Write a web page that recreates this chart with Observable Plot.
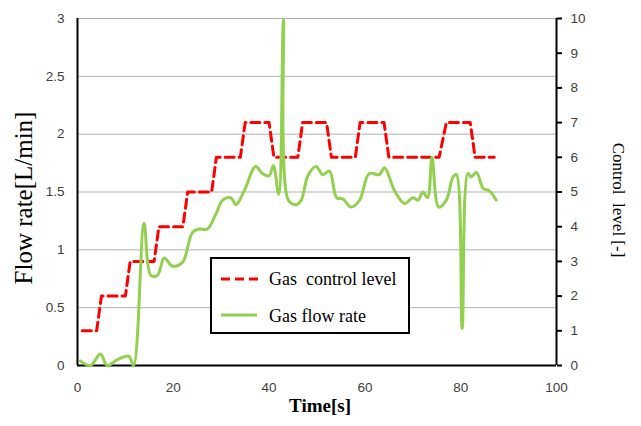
<!DOCTYPE html>
<html>
<head>
<meta charset="utf-8">
<script src="https://cdn.jsdelivr.net/npm/d3@7"></script>
<script src="https://cdn.jsdelivr.net/npm/@observablehq/plot@0.6"></script>
<style>
  body { margin: 0; background: white; }
  #wrap { position: relative; width: 641px; height: 426px; }
  #legend { position: absolute; left: 210px; top: 257px; width: 196px; height: 73px;
    border: 2px solid black; background: white; font-family: "Liberation Serif", serif; font-size: 18px; color: black; }
  .sample { position: absolute; left: 9px; }
  .lab { position: absolute; left: 57px; white-space: pre; line-height: 20px; }
</style>
</head>
<body>
<div id="wrap"></div>
<script>
// Gas flow rate [L/min] vs time [s]
const flowTime = [0.6, 2.7, 4.8, 6.2, 8.3, 10.7, 11.7, 13.9, 15.3, 16.7, 18.1, 19.8, 21.9, 24.0, 25.4, 27.1, 28.9, 30.3, 32.0, 33.1, 34.8, 37.2, 38.6, 40.0, 40.9, 42.0, 43.0, 44.0, 45.6, 46.7, 48.1, 49.8, 51.2, 52.6, 54.1, 55.4, 57.1, 58.9, 60.9, 63.0, 64.1, 66.2, 68.3, 70.0, 71.1, 72.1, 73.1, 74.0, 75.4, 77.0, 78.4, 79.1, 80.3, 81.5, 82.2, 83.3, 84.7, 86.0, 87.4];
const flowRate = [0.04, 0.0, 0.10, 0.0, 0.05, 0.08, 0.0, 1.23, 0.78, 0.78, 0.93, 0.86, 0.89, 1.15, 1.18, 1.18, 1.31, 1.43, 1.45, 1.39, 1.51, 1.72, 1.66, 1.64, 1.73, 1.48, 2.99, 1.43, 1.39, 1.43, 1.64, 1.72, 1.65, 1.68, 1.45, 1.44, 1.37, 1.43, 1.66, 1.65, 1.71, 1.51, 1.40, 1.45, 1.43, 1.50, 1.45, 1.80, 1.37, 1.43, 1.63, 1.65, 0.32, 1.66, 1.63, 1.67, 1.53, 1.51, 1.43];
// Gas control level [-] vs time [s]
const ctlTime = [1, 4, 5, 10, 11, 16, 17, 22, 23, 28, 29, 34, 35, 40, 41, 46, 47, 52, 53, 58, 59, 64, 65, 75.5, 77, 82, 83, 87];
const ctlLevel = [1, 1, 2, 2, 3, 3, 4, 4, 5, 5, 6, 6, 7, 7, 6, 6, 7, 7, 6, 6, 7, 7, 6, 6, 7, 7, 6, 6];
// Axis ticks
const xTicks = [0, 20, 40, 60, 80, 100];
const flowTicks = [0, 0.5, 1, 1.5, 2, 2.5, 3];
const levelTicks = [0, 1, 2, 3, 4, 5, 6, 7, 8, 9, 10];
const levelToFlow = 0.3; // 10 control levels span 3 L/min

const flowData = flowTime.map((t, i) => ({t, v: flowRate[i]}));
const ctlData = ctlTime.map((t, i) => ({t, v: ctlLevel[i]}));

const chart = Plot.plot({
  width: 641, height: 426,
  marginLeft: 77, marginRight: 85, marginTop: 18, marginBottom: 61,
  style: {fontFamily: "Liberation Sans, sans-serif", fontSize: "13.5px", color: "black", background: "white"},
  x: {domain: [0, 100]},
  y: {domain: [0, 3]},
  marks: [
    Plot.gridY(flowTicks, {stroke: "#b0b0b0", strokeOpacity: 1, strokeWidth: 1}),
    Plot.axisX(xTicks, {tickSize: 0, tickPadding: 17, fill: "#404040", label: null}),
    Plot.axisY(flowTicks, {anchor: "left", tickSize: 0, tickPadding: 13, fill: "#404040", tickFormat: d => String(d), label: null}),
    Plot.axisY(levelTicks.map(d => d * levelToFlow), {anchor: "right", tickSize: 5, tickPadding: 9, stroke: "black", strokeWidth: 2, fill: "#404040", tickFormat: d => String(Math.round(d / levelToFlow)), label: null}),
    Plot.ruleX([0, 100], {stroke: "black", strokeWidth: 2}),
    Plot.ruleY([0], {stroke: "black", strokeWidth: 2}),
    Plot.line(ctlData, {x: "t", y: d => d.v * levelToFlow, stroke: "#ff0000", strokeWidth: 3, strokeDasharray: "9,5"}),
    Plot.line(flowData, {x: "t", y: "v", curve: "catmull-rom", stroke: "#92d050", strokeWidth: 3}),
    Plot.text(["Flow rate[L/min]"], {frameAnchor: "left", textAnchor: "middle", dx: -54, dy: 6, rotate: -90, fontSize: 25, fontFamily: "Liberation Serif, serif", fill: "black"}),
    Plot.text(["Control  level [-]"], {frameAnchor: "right", textAnchor: "middle", dx: 62, dy: 8, rotate: 90, fontSize: 17, fontFamily: "Liberation Serif, serif", fill: "black"}),
    Plot.text(["Time[s]"], {frameAnchor: "bottom", dx: 3, dy: 46, fontSize: 19, fontWeight: "bold", fontFamily: "Liberation Serif, serif", fill: "black"})
  ]
});
document.getElementById("wrap").appendChild(chart);

const legend = document.createElement("div");
legend.id = "legend";
legend.innerHTML =
  `<svg class="sample" style="top:10px" width="40" height="22"><line x1="0" x2="38" y1="10" y2="10" stroke="#ff0000" stroke-width="3" stroke-dasharray="9,5"/></svg>` +
  `<div class="lab" style="top:10px">Gas  control level</div>` +
  `<svg class="sample" style="top:46px" width="40" height="22"><line x1="0" x2="36" y1="10" y2="10" stroke="#92d050" stroke-width="3"/></svg>` +
  `<div class="lab" style="top:47px">Gas flow rate</div>`;
document.getElementById("wrap").appendChild(legend);
</script>
</body>
</html>
